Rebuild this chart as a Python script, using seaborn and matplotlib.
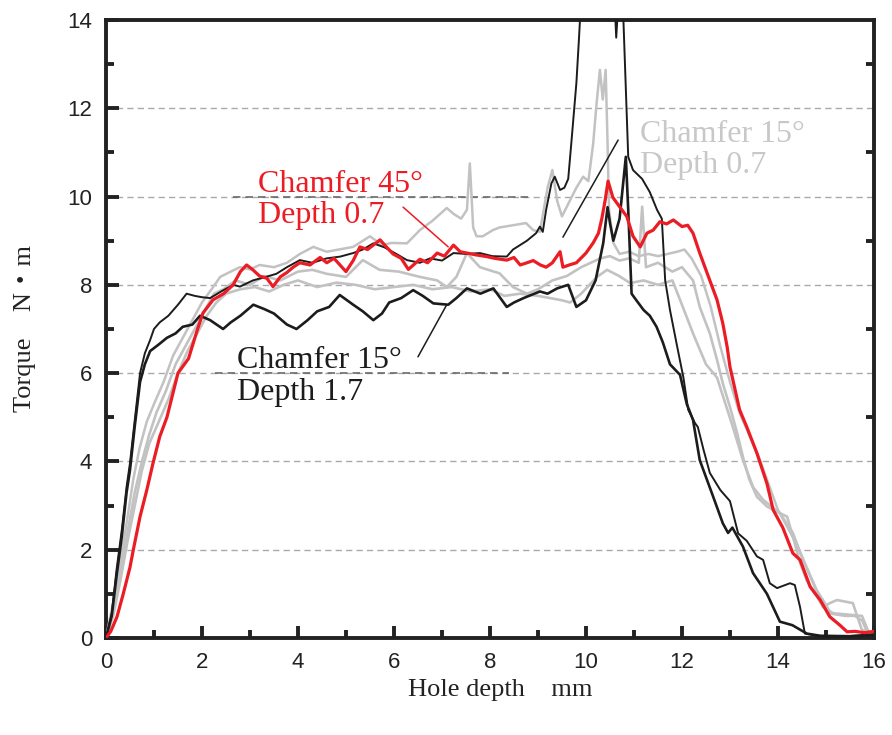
import matplotlib
matplotlib.use("Agg")
import matplotlib.pyplot as plt
from matplotlib.ticker import MultipleLocator
import seaborn as sns


# Torque traces (hole depth in mm, torque in N·m)
# Chamfer 45°, depth 0.7
red_x = [0, 0.1, 0.23, 0.36, 0.5, 0.57, 0.71, 0.85, 0.98, 1.12,
         1.27, 1.5, 1.72, 1.9, 2.02, 2.23, 2.45, 2.65, 2.8, 2.93,
         3.05, 3.2, 3.35, 3.48, 3.63, 3.77, 3.9, 4.04, 4.25, 4.46,
         4.6, 4.75, 5.0, 5.15, 5.29, 5.45, 5.71, 5.85, 5.98, 6.15,
         6.3, 6.54, 6.7, 6.9, 7.05, 7.24, 7.38, 7.52, 7.7, 7.93,
         8.1, 8.35, 8.5, 8.63, 8.77, 8.9, 9.05, 9.17, 9.3, 9.46,
         9.52, 9.65, 9.8, 10.0, 10.15, 10.26, 10.33, 10.4, 10.46, 10.56,
         10.7, 10.85, 10.98, 11.13, 11.27, 11.4, 11.54, 11.68, 11.82, 12.0,
         12.12, 12.23, 12.37, 12.58, 12.73, 12.85, 12.94, 13.0, 13.2, 13.35,
         13.56, 13.77, 13.9, 14.1, 14.31, 14.46, 14.67, 14.78, 14.88, 15.08,
         15.29, 15.44, 15.6, 15.8, 16.0]
red_y = [0, 0.15, 0.48, 1.0, 1.6, 2.0, 2.75, 3.35, 3.96, 4.56,
         5.0, 6.0, 6.33, 6.97, 7.36, 7.66, 7.8, 8.0, 8.3, 8.45,
         8.35, 8.2, 8.15, 7.96, 8.18, 8.28, 8.4, 8.5, 8.45, 8.62,
         8.5, 8.6, 8.3, 8.55, 8.86, 8.8, 9.02, 8.85, 8.7, 8.6,
         8.35, 8.58, 8.5, 8.72, 8.65, 8.9, 8.75, 8.72, 8.68, 8.64,
         8.6, 8.56, 8.62, 8.45, 8.5, 8.55, 8.45, 8.4, 8.5, 8.75,
         8.4, 8.45, 8.5, 8.72, 8.95, 9.17, 9.5, 9.92, 10.35, 9.98,
         9.77, 9.55, 9.1, 8.86, 9.17, 9.24, 9.43, 9.38, 9.47, 9.32,
         9.35, 9.17, 8.72, 8.1, 7.66, 7.13, 6.6, 6.14, 5.17, 4.78,
         4.19, 3.5, 2.9, 2.5, 1.92, 1.77, 1.16, 1.0, 0.86, 0.48,
         0.29, 0.14, 0.15, 0.12, 0.15]

# Chamfer 15°, depth 1.7 (two runs)
blk1_x = [0, 0.12, 0.22, 0.33, 0.43, 0.5, 0.6, 0.71, 0.81, 0.92,
          1.0, 1.12, 1.3, 1.5, 1.68, 1.85, 2.0, 2.17, 2.4, 2.65,
          2.79, 3.06, 3.33, 3.55, 3.77, 4.04, 4.3, 4.6, 4.88, 5.15,
          5.35, 5.57, 5.8, 6.05, 6.27, 6.54, 6.75, 7.0, 7.24, 7.5,
          7.79, 8.05, 8.35, 8.48, 8.77, 8.96, 9.04, 9.1, 9.17, 9.28,
          9.35, 9.46, 9.55, 9.63, 9.7, 9.8, 9.85, 9.9, 10.0, 10.3,
          10.58, 10.63, 10.68, 10.78, 10.88, 10.98, 11.17, 11.33, 11.48, 11.58,
          11.65, 11.75, 11.9, 12.03, 12.13, 12.27, 12.33, 12.45, 12.58, 12.8,
          13.0, 13.17, 13.35, 13.56, 13.69, 13.83, 13.98, 14.25, 14.35, 14.46,
          14.56, 14.8, 15.2, 15.6, 16.0]
blk1_y = [0, 0.56, 1.54, 2.45, 3.43, 3.96, 4.94, 6.0, 6.45, 6.75,
          7.0, 7.15, 7.3, 7.55, 7.8, 7.75, 7.72, 7.7, 7.85, 8.0,
          7.96, 8.1, 8.18, 8.25, 8.4, 8.56, 8.5, 8.6, 8.64, 8.72,
          8.8, 8.94, 8.85, 8.7, 8.56, 8.5, 8.6, 8.55, 8.72, 8.7,
          8.72, 8.65, 8.64, 8.8, 9.0, 9.17, 9.32, 9.2, 9.7, 10.3,
          10.45, 10.15, 10.2, 10.4, 11.28, 12.57, 13.5, 14.5, 15.0, 15.0,
          14.8, 13.6, 14.5, 14.0, 10.9, 10.6, 10.4, 10.1, 9.7, 9.5,
          8.1, 7.43, 6.6, 5.9, 5.17, 4.87, 4.78, 4.26, 3.74, 3.35,
          3.1, 2.37, 2.2, 1.85, 1.77, 1.24, 1.13, 1.24, 1.2, 0.7,
          0.1, 0.05, 0.03, 0.05, 0.05]

blk2_x = [0, 0.12, 0.22, 0.33, 0.43, 0.5, 0.6, 0.71, 0.81, 0.92,
          1.1, 1.27, 1.45, 1.6, 1.8, 1.96, 2.17, 2.44, 2.6, 2.8,
          3.07, 3.3, 3.5, 3.77, 3.97, 4.2, 4.4, 4.65, 4.87, 5.15,
          5.35, 5.57, 5.75, 5.9, 6.15, 6.4, 6.6, 6.82, 7.13, 7.3,
          7.52, 7.8, 8.07, 8.35, 8.5, 8.7, 9.04, 9.2, 9.4, 9.63,
          9.8, 10.0, 10.2, 10.36, 10.45, 10.5, 10.57, 10.7, 10.83, 10.88,
          10.95, 11.05, 11.2, 11.33, 11.47, 11.6, 11.75, 11.96, 12.1, 12.23,
          12.37, 12.65, 12.85, 12.96, 13.05, 13.27, 13.48, 13.77, 14.04, 14.3,
          14.6, 14.88, 15.5, 16.0]
blk2_y = [0, 0.5, 1.4, 2.3, 3.3, 3.8, 4.8, 5.8, 6.2, 6.5,
          6.65, 6.8, 6.9, 7.05, 7.1, 7.3, 7.2, 7.0, 7.15, 7.3,
          7.55, 7.45, 7.35, 7.1, 7.0, 7.2, 7.4, 7.5, 7.77, 7.55,
          7.4, 7.2, 7.35, 7.6, 7.7, 7.88, 7.75, 7.58, 7.55, 7.7,
          7.92, 7.8, 7.92, 7.5, 7.6, 7.7, 7.85, 7.8, 7.92, 8.0,
          7.5, 7.65, 8.1, 8.95, 9.76, 9.4, 9.0, 9.5, 10.9, 9.7,
          7.8, 7.65, 7.43, 7.3, 7.05, 6.7, 6.2, 5.96, 5.3, 4.94,
          4.03, 3.2, 2.6, 2.38, 2.5, 2.07, 1.47, 1.0, 0.37, 0.29,
          0.1, 0.05, 0.04, 0.08]

# Chamfer 15°, depth 0.7 (three runs)
gry1_x = [0, 0.15, 0.29, 0.43, 0.57, 0.7, 0.85, 1.0, 1.2, 1.4,
          1.6, 1.8, 2.0, 2.2, 2.38, 2.6, 2.79, 3.0, 3.2, 3.5,
          3.77, 4.04, 4.32, 4.6, 4.85, 5.15, 5.5, 5.75, 5.95, 6.27,
          6.54, 6.8, 7.1, 7.25, 7.4, 7.52, 7.58, 7.65, 7.72, 7.85,
          8.06, 8.2, 8.48, 8.75, 8.9, 9.04, 9.2, 9.3, 9.4, 9.5,
          9.67, 9.8, 9.94, 10.05, 10.15, 10.22, 10.29, 10.35, 10.41, 10.45,
          10.48, 10.57, 10.7, 10.9, 11.1, 11.3, 11.5, 11.7, 11.9, 12.05,
          12.2, 12.4, 12.6, 12.8, 13.0, 13.2, 13.4, 13.6, 13.8, 14.0,
          14.2, 14.4, 14.6, 14.8, 15.0, 15.1, 15.4, 15.6, 15.75, 15.85,
          16.0]
gry1_y = [0, 0.8, 1.7, 2.6, 3.6, 4.3, 4.9, 5.3, 5.8, 6.4,
          6.8, 7.2, 7.6, 7.9, 8.18, 8.3, 8.4, 8.35, 8.45, 8.4,
          8.5, 8.7, 8.86, 8.75, 8.8, 8.86, 9.1, 8.9, 8.95, 8.94,
          9.24, 9.45, 9.74, 9.6, 9.5, 9.7, 10.75, 9.3, 9.1, 9.1,
          9.24, 9.3, 9.35, 9.4, 9.24, 9.2, 10.2, 10.6, 9.9, 9.55,
          9.92, 10.2, 10.45, 10.35, 11.2, 12.1, 12.87, 12.2, 12.87, 11.2,
          9.7, 8.95, 8.7, 8.75, 8.65, 8.7, 8.65, 8.7, 8.75, 8.8,
          8.6, 8.2, 7.5, 6.6, 5.8, 5.1, 4.6, 4.1, 3.5, 2.9,
          2.5, 2.1, 1.6, 1.1, 0.75, 0.55, 0.5, 0.5, 0.4, 0.15,
          0.1]

gry2_x = [0, 0.15, 0.3, 0.45, 0.6, 0.75, 0.9, 1.05, 1.25, 1.45,
          1.65, 1.85, 2.05, 2.25, 2.45, 2.7, 3.0, 3.3, 3.63, 4.0,
          4.3, 4.6, 5.0, 5.35, 5.7, 6.1, 6.54, 6.9, 7.1, 7.3,
          7.52, 7.79, 8.2, 8.48, 8.77, 9.0, 9.3, 9.6, 9.9, 10.1,
          10.3, 10.5, 10.7, 10.9, 11.1, 11.17, 11.25, 11.5, 11.8, 12.0,
          12.23, 12.37, 12.58, 12.73, 12.85, 13.0, 13.15, 13.27, 13.4, 13.56,
          13.77, 14.0, 14.19, 14.31, 14.46, 14.6, 14.81, 14.94, 15.08, 15.23,
          15.56, 15.63, 15.75, 16.0]
gry2_y = [0, 0.6, 1.5, 2.4, 3.3, 4.0, 4.6, 5.1, 5.6, 6.2,
          6.6, 7.0, 7.4, 7.8, 7.9, 8.1, 8.0, 8.2, 8.1, 8.3,
          8.34, 8.25, 8.18, 8.56, 8.34, 8.3, 8.18, 8.1, 7.95, 8.18,
          8.72, 8.4, 8.26, 7.95, 7.8, 7.9, 8.1, 8.2, 8.4, 8.5,
          8.6, 8.65, 8.55, 8.6, 8.5, 9.77, 8.4, 8.5, 8.3, 8.4,
          8.1, 7.5, 6.9, 6.3, 5.77, 5.23, 4.64, 4.1, 3.6, 3.2,
          2.98, 2.85, 2.75, 2.3, 1.7, 1.3, 0.94, 0.7, 0.79, 0.86,
          0.79, 0.56, 0.18, 0.12]

gry3_x = [0, 0.15, 0.3, 0.45, 0.6, 0.75, 0.9, 1.1, 1.3, 1.5,
          1.7, 1.9, 2.1, 2.3, 2.5, 2.8, 3.1, 3.4, 3.7, 4.0,
          4.4, 4.8, 5.2, 5.6, 6.0, 6.4, 6.8, 7.2, 7.6, 8.0,
          8.3, 8.63, 9.0, 9.25, 9.5, 9.67, 9.9, 10.23, 10.44, 10.69,
          10.92, 11.2, 11.5, 11.8, 11.96, 12.23, 12.5, 12.73, 13.06, 13.27,
          13.48, 13.69, 14.04, 14.31, 14.52, 14.73, 14.94, 15.15, 15.56, 15.75,
          15.9, 16.0]
gry3_y = [0, 0.5, 1.3, 2.2, 3.0, 3.8, 4.4, 4.9, 5.4, 6.0,
          6.5, 6.9, 7.3, 7.6, 7.8, 7.9, 7.95, 7.85, 8.0, 8.1,
          7.95, 8.05, 8.0, 7.9, 7.95, 8.0, 7.9, 7.95, 7.85, 7.9,
          7.75, 7.8, 7.75, 7.7, 7.65, 7.6, 7.8, 8.18, 8.34, 8.2,
          8.04, 8.1, 8.0, 8.1, 7.66, 6.9, 6.2, 5.9, 4.78, 4.03,
          3.42, 3.13, 2.83, 2.38, 1.77, 1.25, 0.7, 0.56, 0.52, 0.5,
          0.1, 0.08]

# labels and their leader lines
label_lines = [["Chamfer 45°", "Depth 0.7"],
               ["Chamfer 15°", "Depth 0.7"],
               ["Chamfer 15°", "Depth 1.7"]]
label_pos = [(3.17, 10.10, 9.40), (11.13, 11.24, 10.53), (2.73, 6.12, 5.39)]
leader_from = [(6.19, 9.76), (10.67, 11.28), (6.50, 6.37)]
leader_to = [(7.13, 8.86), (9.52, 9.08), (7.10, 7.55)]

RED = "#ec1c24"
GREY = "#c2c2c2"
BLACK = "#1c1c1c"
serif = ["Liberation Serif", "Noto Sans CJK JP"]

sns.set_style("ticks")
plt.rcParams["font.family"] = serif

fig = plt.figure(figsize=(8.92, 7.35), dpi=100)
ax = fig.add_axes([0.1188, 0.132, 0.861, 0.8408])

# dashed grid, with the darker stretches seen in the original
for g in range(2, 13, 2):
    ax.axhline(g, color="#a9a9a9", lw=1.0, ls=(0, (4.5, 3)), zorder=0)
ax.hlines(10, 2.65, 8.83, color="#6a6a6a", lw=1.2, ls=(0, (4.5, 3)), zorder=0)
ax.hlines(6, 2.27, 8.4, color="#6a6a6a", lw=1.2, ls=(0, (4.5, 3)), zorder=0)

traces = [(gry3_x, gry3_y, GREY, 1.9), (gry2_x, gry2_y, GREY, 1.9),
          (gry1_x, gry1_y, GREY, 1.8), (blk2_x, blk2_y, BLACK, 1.9),
          (blk1_x, blk1_y, BLACK, 1.4), (red_x, red_y, RED, 2.3)]
for tx, ty, col, lw in traces:
    sns.lineplot(x=tx, y=ty, ax=ax, color=col, lw=lw,
                 estimator=None, sort=False, zorder=3)

text_colors = [RED, "#c8c8c8", BLACK]
for lines, (lx, y1, y2), col in zip(label_lines, label_pos, text_colors):
    ax.text(lx, y1, lines[0], color=col, fontsize=23, va="baseline", ha="left")
    ax.text(lx, y2, lines[1], color=col, fontsize=23, va="baseline", ha="left")

leader_colors = [RED, BLACK, BLACK]
for p0, p1, col in zip(leader_from, leader_to, leader_colors):
    ax.annotate("", xy=p1, xytext=p0,
                arrowprops=dict(arrowstyle="-", color=col, lw=1.1,
                                shrinkA=0, shrinkB=0))

ax.set_xlim(0, 16)
ax.set_ylim(0, 14)
ax.xaxis.set_major_locator(MultipleLocator(2))
ax.xaxis.set_minor_locator(MultipleLocator(1))
ax.yaxis.set_major_locator(MultipleLocator(2))
ax.yaxis.set_minor_locator(MultipleLocator(1))

ax.tick_params(which="major", direction="in", length=9, width=2.8,
               left=True, right=False, top=False, bottom=True,
               labelsize=16, pad=10, labelfontfamily="Liberation Sans",
               colors="#222222")
ax.tick_params(which="minor", direction="in", length=5.5, width=2.8,
               left=True, right=True, top=False, bottom=True, colors="#222222")
for s in ax.spines.values():
    s.set_linewidth(2.8)
    s.set_color("#222222")
    s.set_visible(True)

ax.set_xlabel("Hole depth\u3000mm", fontsize=19, color="#222222")
ax.set_ylabel("Torque\u3000N・m", fontsize=19, color="#222222")
ax.xaxis.set_label_coords(0.513, -0.084)
ax.yaxis.set_label_coords(-0.105, 0.5)
ax.xaxis.label.set_va("center")
ax.yaxis.label.set_va("center")

fig.savefig("out.png", dpi=100)
